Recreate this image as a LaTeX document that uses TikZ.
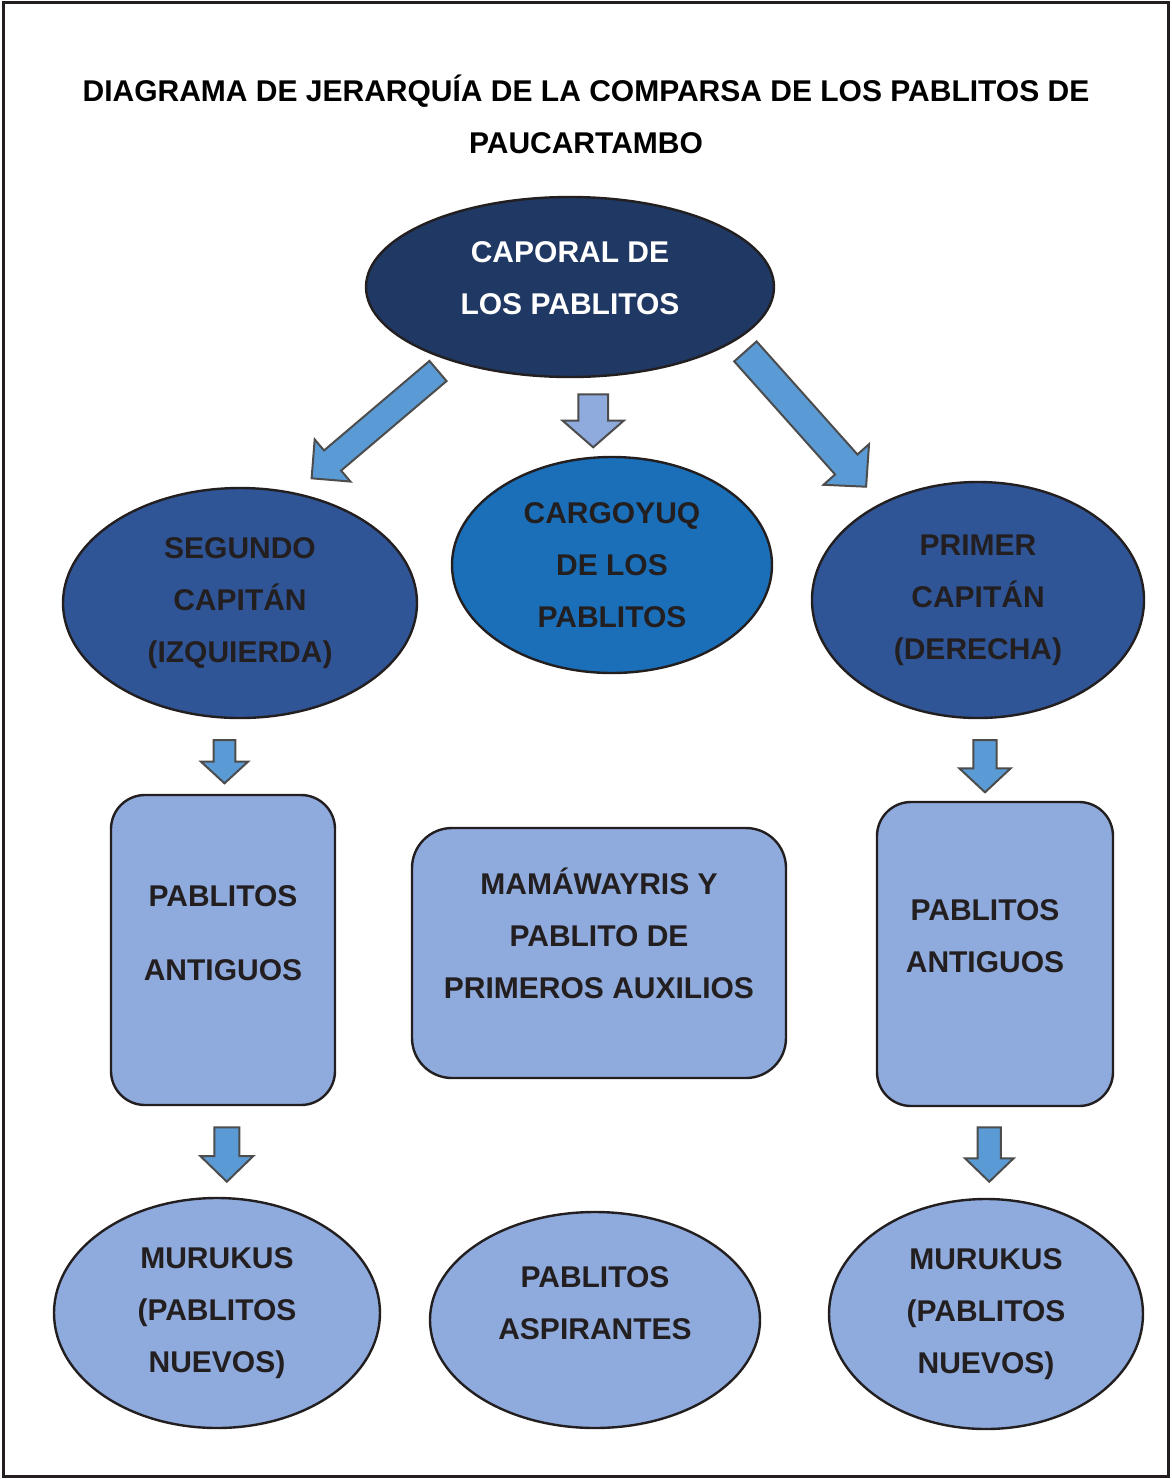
\documentclass[tikz,border=0pt]{standalone}
\usepackage{fontspec}
\setmainfont{Liberation Sans}
\usepackage{tikz}
\usetikzlibrary{shapes.geometric}
\usetikzlibrary{calc}
\usepackage{xcolor}
\definecolor{navyblue}{HTML}{1F3864}
\definecolor{capblue}{HTML}{2F5597}
\definecolor{cargoblue}{HTML}{1B6FB8}
\definecolor{paleblue}{HTML}{8FAADC}
\definecolor{arrowblue}{HTML}{5B9BD5}
\definecolor{inkgray}{HTML}{231F20}
\tikzset{
  boxtext/.style={font=\fontsize{15pt}{26pt}\selectfont\bfseries, align=center, text=inkgray},
  oval/.style={boxtext, ellipse, draw=inkgray, line width=1.2pt, inner sep=0pt},
  roundbox/.style={boxtext, rectangle, rounded corners=17pt, draw=inkgray, line width=1.2pt, inner sep=0pt, fill=paleblue},
  bigarrow/.style={draw=black!70, line width=1pt, fill=arrowblue, line join=miter},
}
% block arrow: tail, tip, shaft half width, head half width, head length
\newcommand{\blockarrow}[6][]{%
  \path ($(#3)!#6!(#2)$) coordinate (ah);
  \draw[bigarrow,#1] ($(#2)!#4!90:(#3)$) -- ($(ah)!#4!-90:(#2)$) -- ($(ah)!#5!-90:(#2)$) -- (#3)
    -- ($(ah)!#5!90:(#2)$) -- ($(ah)!#4!90:(#2)$) -- ($(#2)!#4!-90:(#3)$) -- cycle;
}
\begin{document}
\begin{tikzpicture}[x=0.5pt,y=-0.5pt]
\useasboundingbox (0,0) rectangle (1172,1479);

%%%%%%%%%%%%%%%%%%%%%%%%%%%%%%%%%%%%%%%%%%%%%%%%%%%%%%%%%%%%%% Frame and title
\draw[line width=1.5pt, inkgray] (3,2) rectangle (1168,1476);
\node[boxtext, text=black] (title) at (586,114)
  {DIAGRAMA DE JERARQUÍA DE LA COMPARSA DE LOS PABLITOS DE\\PAUCARTAMBO};

%%%%%%%%%%%%%%%%%%%%%%%%%%%%%%%%%%%%%%%%%%%%%%%%%%%%%%%%%%%%%% Top levels
\node[oval, fill=navyblue, text=white, minimum width=204pt, minimum height=90pt] (caporal) at (570,287)
  {CAPORAL DE\\LOS PABLITOS\\[-17.5pt]\mbox{}};

\node[oval, fill=capblue, minimum width=177pt, minimum height=115pt] (segundo) at (240,603)
  {SEGUNDO\\CAPITÁN\\(IZQUIERDA)};
\node[oval, fill=cargoblue, minimum width=160pt, minimum height=108pt] (cargoyuq) at (612,565)
  {CARGOYUQ\\DE LOS\\PABLITOS};
\node[oval, fill=capblue, minimum width=166pt, minimum height=118pt] (primer) at (978,600)
  {PRIMER\\CAPITÁN\\(DERECHA)};

%%%%%%%%%%%%%%%%%%%%%%%%%%%%%%%%%%%%%%%%%%%%%%%%%%%%%%%%%%%%%% Middle boxes
\node[roundbox, minimum width=112pt, minimum height=155pt] (antizq) at (223,950)
  {PABLITOS\\[11pt]ANTIGUOS\\[-9pt]\mbox{}};
\node[roundbox, rounded corners=20pt, minimum width=187pt, minimum height=125pt] (mamawayris) at (599,953)
  {MAMÁWAYRIS Y\\PABLITO DE\\PRIMEROS AUXILIOS\\[-6pt]\mbox{}};
\node[roundbox, minimum width=118pt, minimum height=152pt] (antder) at (995,954)
  {\mbox{PABLITOS\hspace{10pt}}\\\mbox{ANTIGUOS\hspace{10pt}}\\[-8.5pt]\mbox{}};

%%%%%%%%%%%%%%%%%%%%%%%%%%%%%%%%%%%%%%%%%%%%%%%%%%%%%%%%%%%%%% Bottom ovals
\node[oval, fill=paleblue, minimum width=163pt, minimum height=115pt] (murizq) at (217,1313)
  {MURUKUS\\(PABLITOS\\NUEVOS)};
\node[oval, fill=paleblue, minimum width=165pt, minimum height=108pt] (aspirantes) at (595,1320)
  {PABLITOS\\ASPIRANTES\\[-9pt]\mbox{}};
\node[oval, fill=paleblue, minimum width=157pt, minimum height=115pt] (murder) at (986,1314)
  {MURUKUS\\(PABLITOS\\NUEVOS)};

%%%%%%%%%%%%%%%%%%%%%%%%%%%%%%%%%%%%%%%%%%%%%%%%%%%%%%%%%%%%%% Arrows
\coordinate (a1s) at (438,371);     \coordinate (a1e) at (311.6,478.3);
\coordinate (a2s) at (593.2,394.3); \coordinate (a2e) at (593.2,447.3);
\coordinate (a3s) at (745.4,351.4); \coordinate (a3e) at (866.1,486.7);
\coordinate (a4s) at (224.5,740);   \coordinate (a4e) at (224.5,783.3);
\coordinate (a5s) at (985,740);     \coordinate (a5e) at (985,792.3);
\coordinate (a6s) at (226.8,1127.3); \coordinate (a6e) at (226.8,1181.7);
\coordinate (a7s) at (989.3,1127.3); \coordinate (a7e) at (989.3,1181.7);

\blockarrow{a1s}{a1e}{6.6pt}{13.8pt}{13.75pt}
\blockarrow[fill=paleblue]{a2s}{a2e}{7.4pt}{15.25pt}{13.3pt}
\blockarrow{a3s}{a3e}{7.5pt}{15.25pt}{14.9pt}
\blockarrow{a4s}{a4e}{5.4pt}{11.75pt}{10.8pt}
\blockarrow{a5s}{a5e}{5.85pt}{12.85pt}{12pt}
\blockarrow{a6s}{a6e}{6.25pt}{13.25pt}{12.85pt}
\blockarrow{a7s}{a7e}{5.8pt}{12.1pt}{11.65pt}

\end{tikzpicture}
\end{document}
